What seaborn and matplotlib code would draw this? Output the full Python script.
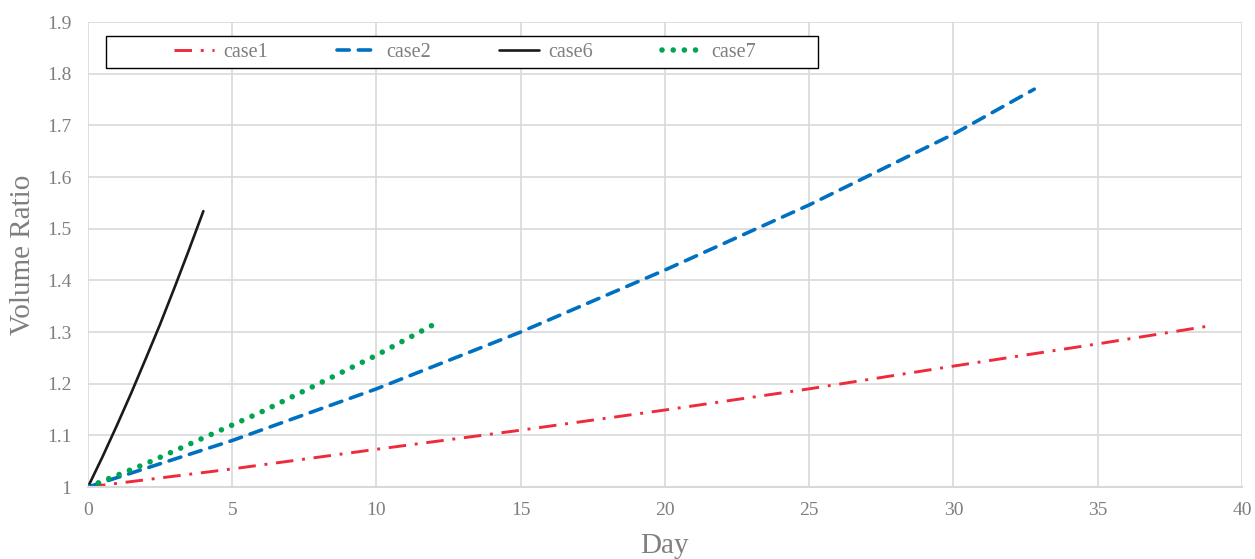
import pandas as pd
import matplotlib
matplotlib.use("Agg")
import matplotlib.pyplot as plt
from matplotlib.patches import Rectangle
import seaborn as sns

# values
case1_day = [0, 5, 10, 15, 20, 25, 30, 35, 38.9]
case1_ratio = [1.0, 1.035, 1.073, 1.11, 1.149, 1.19, 1.234, 1.277, 1.312]
case2_day = [0, 5, 10, 15, 20, 25, 30, 32.8]
case2_ratio = [1.0, 1.09, 1.19, 1.30, 1.42, 1.546, 1.683, 1.77]
case6_day = [0, 0.5, 1, 1.5, 2, 2.5, 3, 3.5, 4]
case6_ratio = [1.0, 1.058, 1.119, 1.182, 1.248, 1.315, 1.386, 1.459, 1.534]
case7_day = [0, 2, 4, 6, 8, 10, 12]
case7_ratio = [1.0, 1.045, 1.095, 1.145, 1.2, 1.255, 1.315]

sns.set_style("white")
plt.rcParams["font.family"] = ["Liberation Serif", "DejaVu Serif"]

fig = plt.figure(figsize=(12.55, 5.59), dpi=100)
ax = fig.add_axes([0.0701, 0.1288, 0.9195, 0.8318])

grey = "#d9d9d9"
txt = "#7f7f7f"

series = [
    ("case1", case1_day, case1_ratio, "#ee2a3b", dict(lw=2.1, dashes=(6, 3, 1, 3))),
    ("case2", case2_day, case2_ratio, "#0070c0", dict(lw=2.6, dashes=(3.4, 2.5), cap="round")),
    ("case6", case6_day, case6_ratio, "#1a1a1a", dict(lw=1.9)),
    ("case7", case7_day, case7_ratio, "#00a550", dict(lw=4.0, dashes=(0.01, 2.0), cap="round")),
]
for name, d, r, col, kw in series:
    df = pd.DataFrame({"Day": d, "Volume Ratio": r})
    sns.lineplot(data=df, x="Day", y="Volume Ratio", ax=ax, color=col, label=name, lw=kw["lw"])
    line = ax.lines[-1]
    if "dashes" in kw:
        line.set_dashes(kw["dashes"])
    if "cap" in kw:
        line.set_dash_capstyle(kw["cap"])

ax.set_xlim(0, 40)
ax.set_ylim(1, 1.9)
ax.set_xticks(range(0, 41, 5))
ax.set_yticks([1, 1.1, 1.2, 1.3, 1.4, 1.5, 1.6, 1.7, 1.8, 1.9])
ax.set_yticklabels(["1", "1.1", "1.2", "1.3", "1.4", "1.5", "1.6", "1.7", "1.8", "1.9"])
ax.grid(True, color=grey, lw=1.2)
for s in ax.spines.values():
    s.set_visible(False)
ax.spines["bottom"].set_visible(True)
ax.spines["bottom"].set_color(grey)
ax.spines["bottom"].set_linewidth(1.5)
ax.tick_params(colors=txt, labelsize=14, length=0)
ax.tick_params(axis="x", pad=11)
ax.tick_params(axis="y", pad=12)
ax.set_xlabel("Day", fontsize=21, color=txt, labelpad=10)
ax.set_ylabel("Volume Ratio", fontsize=21, color=txt, labelpad=8)

# legend box like the original (wider than its entries)
ax.add_patch(Rectangle((0.0156, 0.901), 0.617, 0.069, transform=ax.transAxes,
                       facecolor="white", edgecolor="black", lw=1.0, zorder=4))
leg = ax.legend(loc="center left", bbox_to_anchor=(0.0745, 0.9355), ncol=4, frameon=False,
                fontsize=14.5, handlelength=2.0, handletextpad=0.45, columnspacing=3.4,
                borderpad=0, borderaxespad=0)
leg.set_zorder(5)
for t in leg.get_texts():
    t.set_color(txt)

fig.savefig("out.png", dpi=100)
